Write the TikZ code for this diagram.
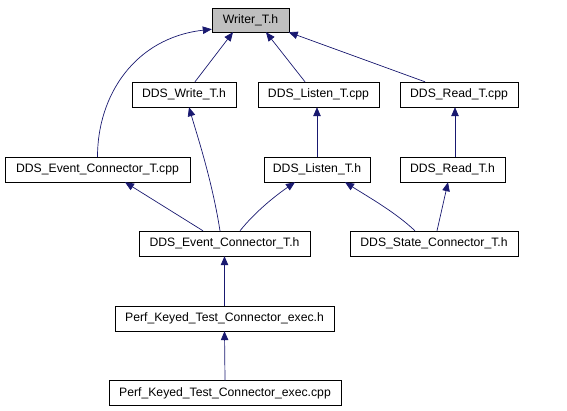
\documentclass[tikz,border=0pt]{standalone}
\usepackage{fontspec}
\setmainfont{Liberation Sans}
\usetikzlibrary{positioning,arrows.meta}
\definecolor{edgeblue}{HTML}{191970}
\definecolor{topgray}{HTML}{BFBFBF}

\begin{document}
\begin{tikzpicture}[
    x=1pt, y=-1pt,
    every node/.style={font=\fontsize{12.2}{14}\selectfont},
    file/.style={rectangle, draw, thin, fill=white, minimum height=25pt, inner sep=0pt, align=center},
    arrow/.style={-{Triangle[length=9pt, width=7.5pt]}, draw=edgeblue, line width=0.7pt}
]
\useasboundingbox (0,0) rectangle (567,411);

% === Top level ===
\node[file, fill=topgray, minimum width=77pt, minimum height=24pt] (writer) at (250.5,20) {Writer\_T.h};

% === Second row ===
\node[file, minimum width=104pt] (writeh) at (184,94.5) {DDS\_Write\_T.h};
\node[file, minimum width=121pt] (listencpp) at (318.5,94.5) {DDS\_Listen\_T.cpp};
\node[file, minimum width=118pt] (readcpp) at (459,94.5) {DDS\_Read\_T.cpp};

% === Third row ===
\node[file, minimum width=185pt] (eventcpp) at (97.5,169.5) {DDS\_Event\_Connector\_T.cpp};
\node[file, minimum width=106pt] (listenh) at (317,169.5) {DDS\_Listen\_T.h};
\node[file, minimum width=105pt] (readh) at (452.5,169.5) {DDS\_Read\_T.h};

% === Connectors ===
\node[file, minimum width=171pt] (eventh) at (224.5,243.5) {DDS\_Event\_Connector\_T.h};
\node[file, minimum width=168pt] (stateh) at (434,243.5) {DDS\_State\_Connector\_T.h};

% === Perf test ===
\node[file, minimum width=219pt] (perfh) at (224.5,318.5) {Perf\_Keyed\_Test\_Connector\_exec.h};
\node[file, minimum width=232pt] (perfcpp) at (225,393) {Perf\_Keyed\_Test\_Connector\_exec.cpp};

% === ARROWS ===

% into Writer_T.h
\draw[arrow] (eventcpp.north) .. controls (97.5,95) and (135,38) .. ([yshift=3pt]writer.south west);
\draw[arrow] ([xshift=11pt]writeh.north) -- ([xshift=-17.5pt]writer.south);
\draw[arrow] ([xshift=-13.5pt]listencpp.north) -- ([xshift=15.5pt]writer.south);
\draw[arrow] ([xshift=-34pt]readcpp.north) -- ([xshift=-0.5pt]writer.south east);

% middle rows
\draw[arrow] (listenh.north) -- (listenh.north |- listencpp.south);
\draw[arrow] ([xshift=2.5pt]readh.north) -- ([xshift=-4pt]readcpp.south);

% from DDS_Event_Connector_T.h
\draw[arrow] ([xshift=-4.5pt]eventh.north) .. controls (212,180) and (197,135) .. ([xshift=5pt]writeh.south);
\draw[arrow] ([xshift=-21.5pt]eventh.north) -- ([xshift=27.5pt]eventcpp.south);
\draw[arrow] ([xshift=15.5pt]eventh.north) .. controls (255,212) and (275,196) .. ([xshift=-22pt]listenh.south);

% from DDS_State_Connector_T.h
\draw[arrow] ([xshift=-19pt]stateh.north) .. controls (395,212) and (370,198) .. ([xshift=28pt]listenh.south);
\draw[arrow] ([xshift=3pt]stateh.north) -- ([xshift=-4.5pt]readh.south);

% Perf test chain
\draw[arrow] (perfh.north) -- (eventh.south);
\draw[arrow] (perfcpp.north) -- (perfh.south);

\end{tikzpicture}
\end{document}
